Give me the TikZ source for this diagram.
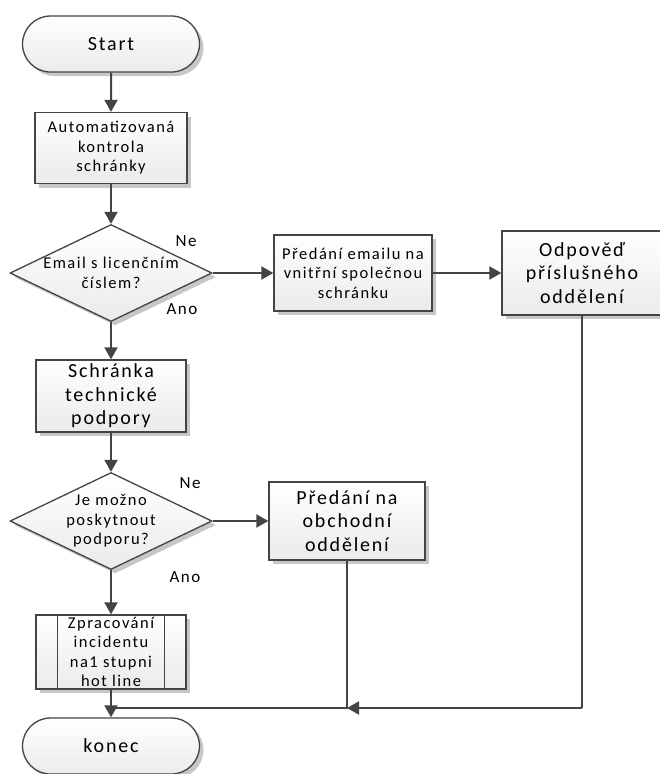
\documentclass[tikz,border=0pt]{standalone}
\usepackage{fontspec}
\setmainfont{Carlito}[LetterSpace=9]
\usetikzlibrary{shapes.geometric, shapes.misc, arrows.meta, shadows}
\definecolor{linegray}{HTML}{444444}

\begin{document}
\begin{tikzpicture}[x=1pt,y=-1pt]
		\tikzstyle{Box} = [rectangle, draw=linegray, line width=1.3pt, top color=white, bottom color=gray!16, drop shadow={shadow xshift=4pt, shadow yshift=-4pt, fill=black!22, opacity=1}, align=center, inner sep=0pt, font=\fontsize{16.5}{19.5}\selectfont]
		\tikzstyle{Big} = [font=\fontsize{20}{23.5}\selectfont]
		\tikzstyle{Term} = [Box, Big, rounded rectangle, minimum width=177pt, minimum height=56pt]
		\tikzstyle{Dec} = [Box, diamond, aspect=2.08, minimum width=202pt, minimum height=97pt]
		\tikzstyle{Lbl} = [font=\fontsize{17}{18}\selectfont, inner sep=0pt]
		\tikzstyle{arrow} = [line width=2pt, draw=linegray, -{Triangle[length=12pt,width=13pt]}]
		\tikzstyle{line} = [line width=2pt, draw=linegray]
		
		\useasboundingbox (0,0) rectangle (660,774);
		
		\node (start) [Term] at (111,44) {Start};
		\node (auto) [Box, minimum width=152pt, minimum height=71pt] at (111,148) {Automatizovaná\\kontrola\\schránky};
		\node (mail) [Dec] at (111,273) {Email s licenčním\\číslem?};
		\node (ne1) [Lbl] at (186,241) {Ne};
		\node (ano1) [Lbl] at (182,309) {Ano};
		\node (fwd) [Box, minimum width=158pt, minimum height=76pt] at (353,273) {Předání emailu na\\vnitřní společnou\\schránku};
		\node (resp) [Box, Big, minimum width=160pt, minimum height=84pt] at (582,273) {Odpověď\\příslušného\\oddělení};
		
		\node (tech) [Box, Big, minimum width=150pt, minimum height=72pt] at (111,396) {Schránka\\technické\\podpory};
		\node (can) [Dec] at (111,521) {Je možno\\poskytnout\\podporu?};
		\node (ne2) [Lbl] at (190,483) {Ne};
		\node (ano2) [Lbl] at (185,577) {Ano};
		\node (obch) [Box, Big, minimum width=156pt, minimum height=78pt] at (347,521) {Předání na\\obchodní\\oddělení};
		
		\node (hot) [Box, minimum width=150pt, minimum height=74pt] at (111,652) {Zpracování\\incidentu\\na1 stupni\\hot line};
		\draw [line width=1.3pt, linegray] ([xshift=22pt]hot.north west) -- ([xshift=22pt]hot.south west);
		\draw [line width=1.3pt, linegray] ([xshift=-22pt]hot.north east) -- ([xshift=-22pt]hot.south east);
		\node (end) [Term] at (111,746) {konec};
		
		\draw [arrow] (start) -- (auto);
		\draw [arrow] (auto) -- (mail);
		\draw [arrow] (mail) -- (tech);
		\draw [arrow] (tech) -- (can);
		\draw [arrow] (can) -- (hot);
		\draw [arrow] (hot) -- (end);
		\draw [arrow] (mail) -- (fwd);
		\draw [arrow] (fwd) -- (resp);
		\draw [arrow] (can) -- (obch);
		
		\coordinate (j1) at (obch.south |- 0,708);
		\coordinate (j2) at (resp.south |- 0,708);
		\coordinate (j3) at (hot.south |- 0,708);
		\draw [line] (resp) -- (j2);
		\draw [arrow] (j2) -- (j1);
		\draw [line] (obch) -- (j1) -- (j3);
\end{tikzpicture}
\end{document}
